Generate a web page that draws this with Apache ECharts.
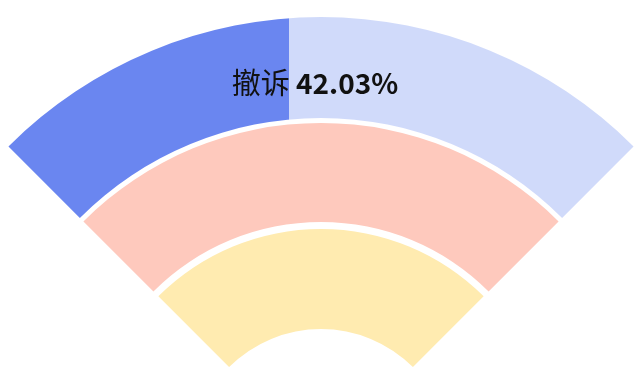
<!DOCTYPE html>
<html>
<head>
<meta charset="utf-8">
<script src="https://cdn.jsdelivr.net/npm/echarts@6/dist/echarts.min.js"></script>
<style>
  html, body { margin: 0; padding: 0; background: #ffffff; }
  #chart { width: 640px; height: 372px; }
</style>
</head>
<body>
<div id="chart"></div>
<script>
// Highlighted category and its share, shown on the outer band
const categoryName = '撤诉';
const categoryRate = 42.03;

// Each band sweeps a quarter of the circle; the rest stays hidden
const arcShare = [90, 270];

// Band colours, outer to inner
const bandColors = ['#d0dafa', '#fec9bd', '#ffebb0'];
const highlightColor = '#6a86f0';

// Band radii in pixels, outer to inner
const bandRadii = [[341, 442], [237, 336], [130, 230]];
const center = [321, 459];

const chart = echarts.init(document.getElementById('chart'));

// Outer band: hard-edged horizontal gradient, dark part covers the category share
function outerFill(rate) {
  const p = rate / 100;
  return new echarts.graphic.LinearGradient(0, 0, 1.068, 0, [
    { offset: 0, color: highlightColor },
    { offset: p, color: highlightColor },
    { offset: p, color: bandColors[0] },
    { offset: 1, color: bandColors[0] }
  ]);
}

const series = bandRadii.map((r, i) => ({
  type: 'pie',
  center: center,
  radius: r,
  startAngle: 135,
  clockwise: true,
  silent: true,
  animation: false,
  z: 2,
  label: { show: false },
  labelLine: { show: false },
  data: [
    { value: arcShare[0], itemStyle: { color: i === 0 ? outerFill(categoryRate) : bandColors[i] } },
    { value: arcShare[1], itemStyle: { color: 'rgba(0,0,0,0)' } }
  ]
}));

chart.setOption({
  backgroundColor: '#ffffff',
  animation: false,
  series: series,
  graphic: {
    elements: [{
      type: 'text',
      x: 315,
      y: 83,
      z: 100,
      silent: true,
      style: {
        text: '{n|' + categoryName + '} {v|' + categoryRate.toFixed(2) + '%}',
        align: 'center',
        verticalAlign: 'middle',
        fill: '#111111',
        font: '28px "Noto Sans CJK SC"',
        rich: {
          n: { fontFamily: 'Noto Sans CJK SC', fontSize: 29, fontWeight: 'normal', fill: '#111111' },
          v: { fontFamily: 'Noto Sans CJK SC', fontSize: 28, fontWeight: 'bold', fill: '#111111' }
        }
      }
    }]
  }
});
</script>
</body>
</html>
